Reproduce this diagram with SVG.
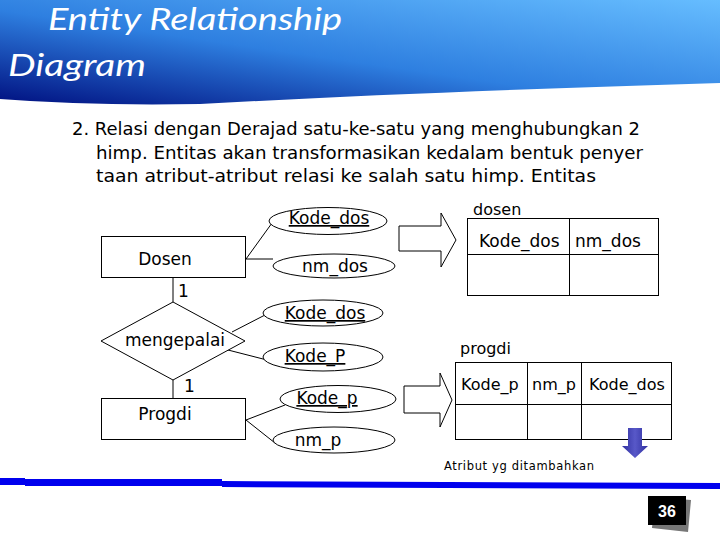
<svg xmlns="http://www.w3.org/2000/svg" width="720" height="540" viewBox="0 0 720 540">
<defs>
<linearGradient id="hdr" x1="0" y1="1" x2="1" y2="0">
<stop offset="0" stop-color="#001080"/>
<stop offset="0.45" stop-color="#2e7fe0"/>
<stop offset="1" stop-color="#66bdff"/>
</linearGradient>
<linearGradient id="blu" x1="0" y1="0" x2="1" y2="0">
<stop offset="0" stop-color="#3030a0"/>
<stop offset="0.5" stop-color="#5858c8"/>
<stop offset="1" stop-color="#3030a0"/>
</linearGradient>
<style>
.ln{stroke:#000;stroke-width:1;fill:none}
.sh{stroke:#000;stroke-width:1;fill:#fff}
.t{font-family:"DejaVu Sans","Liberation Sans",sans-serif;font-size:17px;fill:#000}
.u{text-decoration:underline}
.body{font-family:"DejaVu Sans","Liberation Sans",sans-serif;font-size:17px;fill:#000}
.ttl{font-family:Lato,"Open Sans",sans-serif;font-style:italic;font-size:30px;fill:#fff}
.th{font-family:"DejaVu Sans","Liberation Sans",sans-serif;font-size:16px;fill:#000}
</style>
</defs>
<rect width="720" height="540" fill="#fff"/>
<g id="header">
<path d="M0,0 H720 V83 Q420,92 200,104 Q90,106 0,99 Z" fill="url(#hdr)"/>
<text class="ttl" x="48" y="30" textLength="294" lengthAdjust="spacingAndGlyphs">Entity Relationship</text>
<text class="ttl" x="8" y="76" textLength="138" lengthAdjust="spacingAndGlyphs">Diagram</text>
</g>
<g id="desc">
<text class="body" x="72" y="135" textLength="568" lengthAdjust="spacingAndGlyphs">2. Relasi dengan Derajad satu-ke-satu yang menghubungkan 2</text>
<text class="body" x="96" y="159" textLength="547" lengthAdjust="spacingAndGlyphs">himp. Entitas akan transformasikan kedalam bentuk penyer</text>
<text class="body" x="96" y="182" textLength="500" lengthAdjust="spacingAndGlyphs">taan atribut-atribut relasi ke salah satu himp. Entitas</text>
</g>
<g id="connectors">
<line class="ln" x1="246" y1="259" x2="272" y2="223"/>
<line class="ln" x1="246" y1="259" x2="273" y2="259"/>
<line class="ln" x1="173" y1="278" x2="173" y2="302"/>
<line class="ln" x1="173" y1="380" x2="173" y2="398"/>
<line class="ln" x1="232" y1="332" x2="265" y2="315"/>
<line class="ln" x1="228" y1="350" x2="267" y2="360"/>
<line class="ln" x1="246" y1="420" x2="285" y2="405"/>
<line class="ln" x1="246" y1="420" x2="275" y2="443"/>
<text class="t" x="178" y="297" font-size="15">1</text>
<text class="t" x="184" y="392" font-size="15">1</text>
</g>
<g id="dosen">
<rect class="sh" x="101.5" y="236.5" width="144" height="41"/>
<text class="t" x="165" y="265" text-anchor="middle">Dosen</text>
</g>
<g id="mengepalai">
<polygon class="sh" points="173,302 245,341 173,380 101,341"/>
<text class="t" x="175" y="346" text-anchor="middle">mengepalai</text>
</g>
<g id="progdi">
<rect class="sh" x="101.5" y="398.5" width="144" height="41"/>
<text class="t" x="165" y="420" text-anchor="middle">Progdi</text>
</g>
<g id="attr-kode-dos-1">
<ellipse class="sh" cx="328" cy="221" rx="59" ry="13.5"/>
<text class="t u" x="329" y="224" text-anchor="middle">Kode_dos</text>
</g>
<g id="attr-nm-dos">
<ellipse class="sh" cx="334" cy="266" rx="61" ry="12"/>
<text class="t" x="335" y="272" text-anchor="middle">nm_dos</text>
</g>
<g id="attr-kode-dos-2">
<ellipse class="sh" cx="323" cy="313" rx="60" ry="13"/>
<text class="t u" x="325" y="319" text-anchor="middle">Kode_dos</text>
</g>
<g id="attr-kode-P">
<ellipse class="sh" cx="323" cy="357" rx="60" ry="14"/>
<text class="t u" x="315" y="362" text-anchor="middle">Kode_P</text>
</g>
<g id="attr-kode-p">
<ellipse class="sh" cx="338" cy="399" rx="58" ry="13.5"/>
<text class="t u" x="327" y="404" text-anchor="middle">Kode_p</text>
</g>
<g id="attr-nm-p">
<ellipse class="sh" cx="334" cy="440" rx="61" ry="13"/>
<text class="t" x="318" y="446" text-anchor="middle">nm_p</text>
</g>
<g id="arrow-1">
<polygon class="sh" points="399,226 441,226 441,213 456,240 441,267 441,251 399,251"/>
</g>
<g id="arrow-2">
<polygon class="sh" points="404,386 440,386 440,373 452,400 440,427 440,413 404,413"/>
</g>
<g id="table-dosen">
<text class="th" x="473" y="215">dosen</text>
<rect class="sh" x="467.5" y="218.5" width="191" height="77"/>
<line class="ln" x1="467.5" y1="254.5" x2="658.5" y2="254.5"/>
<line class="ln" x1="569.5" y1="218.5" x2="569.5" y2="295.5"/>
<text class="t" x="479" y="247">Kode_dos</text>
<text class="t" x="575" y="247">nm_dos</text>
</g>
<g id="table-progdi">
<text class="th" x="460" y="354">progdi</text>
<rect class="sh" x="455.5" y="362.5" width="216" height="77"/>
<line class="ln" x1="455.5" y1="404.5" x2="671.5" y2="404.5"/>
<line class="ln" x1="527.5" y1="362.5" x2="527.5" y2="439.5"/>
<line class="ln" x1="581.5" y1="362.5" x2="581.5" y2="439.5"/>
<text class="th" x="461" y="390">Kode_p</text>
<text class="th" x="532" y="390">nm_p</text>
<text class="th" x="589" y="390">Kode_dos</text>
</g>
<g id="added-attr">
<polygon points="628,428 642,428 642,446 648,446 635,458 622,446 628,446" fill="url(#blu)"/>
<text x="444" y="470" font-family="'DejaVu Sans','Liberation Sans',sans-serif" font-size="11.5" fill="#000" textLength="150" lengthAdjust="spacing">Atribut yg ditambahkan</text>
</g>
<g id="footer">
<polygon points="0,478 25,478 25,479 222,479 222,481 720,483 720,489 222,487 222,486 25,486 25,485 0,485" fill="#0000ee"/>
<polygon points="655,497 691,500 688,532 652,528" fill="#777"/>
<rect x="648" y="496" width="38" height="29" fill="#000"/>
<text x="667" y="517" text-anchor="middle" font-family="'Liberation Sans',Arial,sans-serif" font-weight="bold" font-size="16" fill="#fff">36</text>
</g>
</svg>
